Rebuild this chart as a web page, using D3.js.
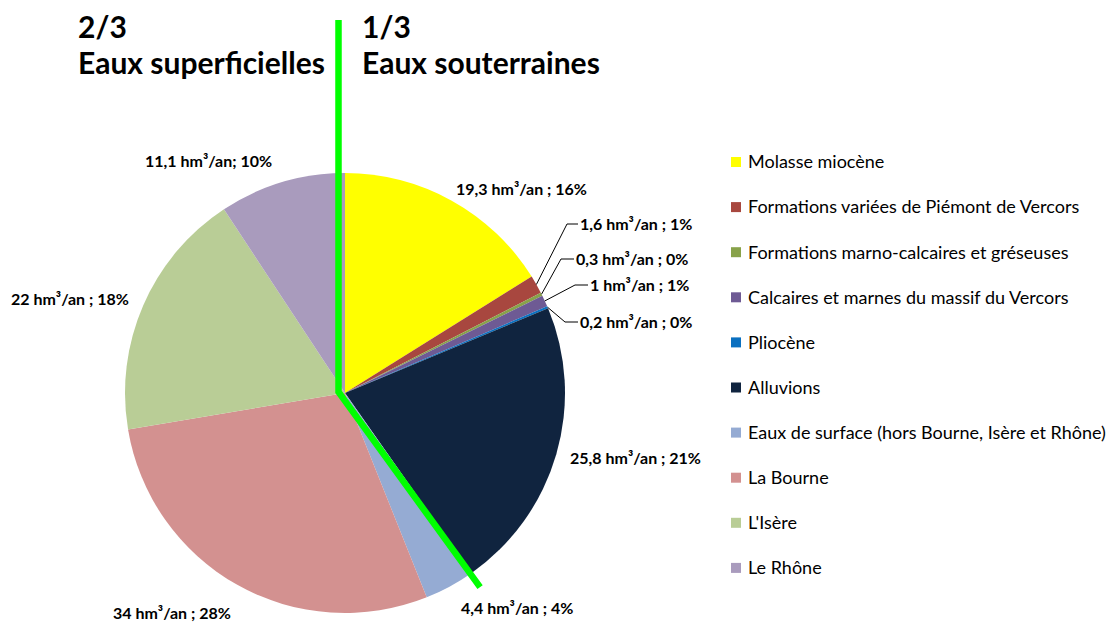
<!DOCTYPE html>
<html lang="fr">
<head>
<meta charset="UTF-8">
<title>Ressources en eau</title>
<script src="https://d3js.org/d3.v7.min.js"></script>
<style>
  html, body { margin: 0; padding: 0; background: #fff; }
  svg { display: block; font-family: Lato, "Noto Sans", sans-serif; }
</style>
</head>
<body>
<svg id="chart"></svg>
<script>
// data
const categories = [
  "Molasse miocène",
  "Formations variées de Piémont de Vercors",
  "Formations marno-calcaires et gréseuses",
  "Calcaires et marnes du massif du Vercors",
  "Pliocène",
  "Alluvions",
  "Eaux de surface (hors Bourne, Isère et Rhône)",
  "La Bourne",
  "L'Isère",
  "Le Rhône"
];
const volumes = [19.3, 1.6, 0.3, 1, 0.2, 25.8, 4.4, 34, 22, 11.1];
const valueLabels = [
  "19,3 hm³/an ; 16%",
  "1,6 hm³/an ; 1%",
  "0,3 hm³/an ; 0%",
  "1 hm³/an ; 1%",
  "0,2 hm³/an ; 0%",
  "25,8 hm³/an ; 21%",
  "4,4 hm³/an ; 4%",
  "34 hm³/an ; 28%",
  "22 hm³/an ; 18%",
  "11,1 hm³/an; 10%"
];
const colors = ["#ffff00", "#a8473f", "#88a24a", "#6e5a94", "#0a70c0",
                "#10243f", "#95abd3", "#d39190", "#b9cd96", "#a99bbd"];
const undergroundCount = 6; // first six slices are groundwater

const width = 1120, height = 624;
const svg = d3.select("#chart").attr("width", width).attr("height", height);

const cx = 345, cy = 393, r = 220;

// label layout: [x, y centre, knee x or null]
const labelLayout = [
  [456, 189, null],
  [580, 224, 567],
  [576, 259, 561],
  [590, 285, 575],
  [580, 322, 565],
  [570, 458, null],
  [461, 608, null],
  [113, 613, null],
  [11, 299, null],
  [145, 161, null]
];

const pie = d3.pie().sort(null).value(d => d)(volumes);
const arc = d3.arc().innerRadius(0).outerRadius(r);

const g = svg.append("g").attr("transform", `translate(${cx},${cy})`);
g.selectAll("path.slice").data(pie).join("path")
  .attr("class", "slice")
  .attr("d", arc)
  .attr("fill", (d, i) => colors[i]);

// leader lines for the small slices
pie.forEach((d, i) => {
  const [lx, ly, knee] = labelLayout[i];
  if (knee === null) return;
  const a = (d.startAngle + d.endAngle) / 2;
  const px = cx + r * Math.sin(a), py = cy - r * Math.cos(a);
  svg.append("polyline")
    .attr("points", `${px},${py} ${knee},${ly} ${lx - 2},${ly}`)
    .attr("fill", "none")
    .attr("stroke", "#000")
    .attr("stroke-width", 1);
});

svg.append("g").selectAll("text").data(valueLabels).join("text")
  .attr("x", (d, i) => labelLayout[i][0])
  .attr("y", (d, i) => labelLayout[i][1])
  .attr("dy", "0.35em")
  .attr("font-size", 16)
  .attr("font-weight", "bold")
  .attr("fill", "#000")
  .text(d => d);

// green separator between surface and ground water
const splitAngle = pie[undergroundCount - 1].endAngle;
const lineX = cx - 6.5;
const ex = cx + (r + 17) * Math.sin(splitAngle) - 1;
const ey = cy - (r + 17) * Math.cos(splitAngle);
svg.append("polyline")
  .attr("points", `${lineX},20 ${lineX},${cy - 1} ${ex},${ey}`)
  .attr("fill", "none")
  .attr("stroke", "#00ff00")
  .attr("stroke-width", 6.5)
  .attr("stroke-linejoin", "miter");

// headings
const headings = [
  { x: 78, lines: ["2/3", "Eaux superficielles"] },
  { x: 362, lines: ["1/3", "Eaux souterraines"] }
];
headings.forEach(h => {
  h.lines.forEach((t, k) => {
    svg.append("text")
      .attr("x", h.x)
      .attr("y", 38 + k * 36)
      .attr("font-size", 30)
      .attr("font-weight", "bold")
      .attr("fill", "#000")
      .text(t);
  });
});

// legend
const legend = svg.append("g").attr("transform", "translate(731,162)");
const row = legend.selectAll("g").data(categories).join("g")
  .attr("transform", (d, i) => `translate(0,${i * 45.1})`);
row.append("rect")
  .attr("x", 0).attr("y", -5)
  .attr("width", 10).attr("height", 10)
  .attr("fill", (d, i) => colors[i]);
row.append("text")
  .attr("x", 17)
  .attr("dy", "0.35em")
  .attr("font-size", 18)
  .attr("fill", "#000")
  .text(d => d);
</script>
</body>
</html>
